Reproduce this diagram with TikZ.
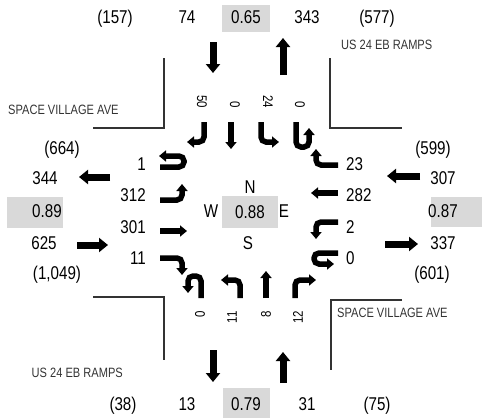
\documentclass[tikz,border=0pt]{standalone}
\usepackage{fontspec}
\setmainfont[FakeStretch=0.82]{Liberation Sans}
\usetikzlibrary{arrows.meta}
\definecolor{phfgray}{RGB}{217,217,217}

\begin{document}
\begin{tikzpicture}[x=1pt, y=-1pt,
    bigarrow/.style={line width=7pt, -{Triangle[width=14pt,length=9pt]}},
    turn/.style={line width=5.5pt, rounded corners=5pt, -{Triangle[width=11pt,length=7pt]}},
    vol/.style={font=\fontsize{18.5}{20}\selectfont, inner sep=0pt, anchor=base},
    movein/.style={font=\fontsize{18.5}{20}\selectfont, inner sep=0pt},
    moverot/.style={font=\fontsize{14}{16}\selectfont, inner sep=0pt, anchor=east},
    street/.style={font=\fontsize{13.5}{15}\selectfont, inner sep=0pt, text=black!80},
    curb/.style={line width=2pt, black!80}]
    \useasboundingbox (0,0) rectangle (482,418);

    % Curb lines
    \draw[curb] (164,58) -- (164,128) -- (93,128);
    \draw[curb] (330,58) -- (330,128) -- (402,128);
    \draw[curb] (93,297) -- (164,297) -- (164,360);
    \draw[curb] (402,300) -- (331,300) -- (331,370);

    % Street names
    \node[street, anchor=west] (stNW) at (8,110) {SPACE VILLAGE AVE};
    \node[street, anchor=west] (stNE) at (341,45) {US 24 EB RAMPS};
    \node[street, anchor=west] (stSE) at (337,313) {SPACE VILLAGE AVE};
    \node[street, anchor=east] (stSW) at (123,373) {US 24 EB RAMPS};

    % Peak hour factor boxes
    \fill[phfgray] (222,5) rectangle (270,32);
    \fill[phfgray] (223,388) rectangle (270,418);
    \fill[phfgray] (7,197) rectangle (63,228);
    \fill[phfgray] (431,197) rectangle (482,227);
    \fill[phfgray] (222,196) rectangle (278,228);

    % North leg
    \node[vol] (nExit)  at (115,23.5) {(157)};
    \node[vol] (nIn)    at (187,23.5) {74};
    \node[vol] (nPhf)   at (246,23.5) {0.65};
    \node[vol] (nOut)   at (307,23.5) {343};
    \node[vol] (nTotal) at (377,23.5) {(577)};
    \draw[bigarrow] (213,42) -- (213,73);
    \draw[bigarrow] (283,75) -- (283,38);

    % South leg
    \node[vol] (sTotal) at (123,410) {(38)};
    \node[vol] (sOut)   at (187,410) {13};
    \node[vol] (sPhf)   at (246,410) {0.79};
    \node[vol] (sIn)    at (307,410) {31};
    \node[vol] (sExit)  at (377,410) {(75)};
    \draw[bigarrow] (213,350) -- (213,382);
    \draw[bigarrow] (283,383) -- (283,352);

    % West leg
    \node[vol] (wTotal) at (62,154.5) {(664)};
    \node[vol] (wOut)   at (45,184.5) {344};
    \node[vol] (wPhf)   at (47,217.5) {0.89};
    \node[vol] (wIn)    at (44,249.5) {625};
    \node[vol] (wExit)  at (57,279.5) {(1,049)};
    \draw[bigarrow] (110,177) -- (79,177);
    \draw[bigarrow] (77,245) -- (108,245);

    % East leg
    \node[vol] (eTotal) at (433,154.5) {(599)};
    \node[vol] (eIn)    at (443,184.5) {307};
    \node[vol] (ePhf)   at (443,217.5) {0.87};
    \node[vol] (eOut)   at (443,249.5) {337};
    \node[vol] (eExit)  at (432,279.5) {(601)};
    \draw[bigarrow] (420,176) -- (387,176);
    \draw[bigarrow] (385,244) -- (418,244);

    % Intersection
    \node[vol] (cN)   at (250,193.5) {N};
    \node[vol] (cW)   at (211,217.5) {W};
    \node[vol] (cPhf) at (250,218.5) {0.88};
    \node[vol] (cE)   at (284,217.5) {E};
    \node[vol] (cS)   at (248,249.5) {S};

    % Southbound movements
    \node[moverot, rotate=-90] (sbR) at (202,108) {50};
    \node[moverot, rotate=-90] (sbT) at (235,108) {0};
    \node[moverot, rotate=-90] (sbL) at (268,108) {24};
    \node[moverot, rotate=-90] (sbU) at (300,108) {0};
    \draw[turn] (204,122) -- (204,142) -- (187,142);
    \draw[turn] (231,122) -- (231,149);
    \draw[turn] (261,122) -- (261,142) -- (279,142);
    \draw[turn] (296,122) -- (296,147) -- (309,147) -- (309,128);

    % Northbound movements
    \node[moverot, rotate=90] (nbU) at (200,311) {0};
    \node[moverot, rotate=90] (nbL) at (232,311) {11};
    \node[moverot, rotate=90] (nbT) at (266,311) {8};
    \node[moverot, rotate=90] (nbR) at (298,311) {12};
    \draw[turn] (201,298) -- (201,276) -- (188,276) -- (188,293);
    \draw[turn] (240,298) -- (240,280) -- (221,280);
    \draw[turn] (266,298) -- (266,271);
    \draw[turn] (295,298) -- (295,280) -- (316,280);

    % Eastbound movements
    \node[movein, anchor=base east] (ebU) at (146,170) {1};
    \node[movein, anchor=base east] (ebL) at (146,201.5) {312};
    \node[movein, anchor=base east] (ebT) at (146,233.5) {301};
    \node[movein, anchor=base east] (ebR) at (146,264.5) {11};
    \draw[turn] (160,167) -- (184,167) -- (184,156) -- (159,156);
    \draw[turn] (160,200) -- (182,200) -- (182,184);
    \draw[turn] (160,231) -- (187,231);
    \draw[turn] (160,258) -- (182,258) -- (182,275);

    % Westbound movements
    \node[movein, anchor=base west] (wbR) at (346,170) {23};
    \node[movein, anchor=base west] (wbT) at (346,201.5) {282};
    \node[movein, anchor=base west] (wbL) at (346,233.5) {2};
    \node[movein, anchor=base west] (wbU) at (346,264.5) {0};
    \draw[turn] (338,165) -- (316,165) -- (316,149);
    \draw[turn] (338,193) -- (311,193);
    \draw[turn] (338,222) -- (316,222) -- (316,239);
    \draw[turn] (338,253) -- (314,253) -- (314,264) -- (334,264);
\end{tikzpicture}
\end{document}
